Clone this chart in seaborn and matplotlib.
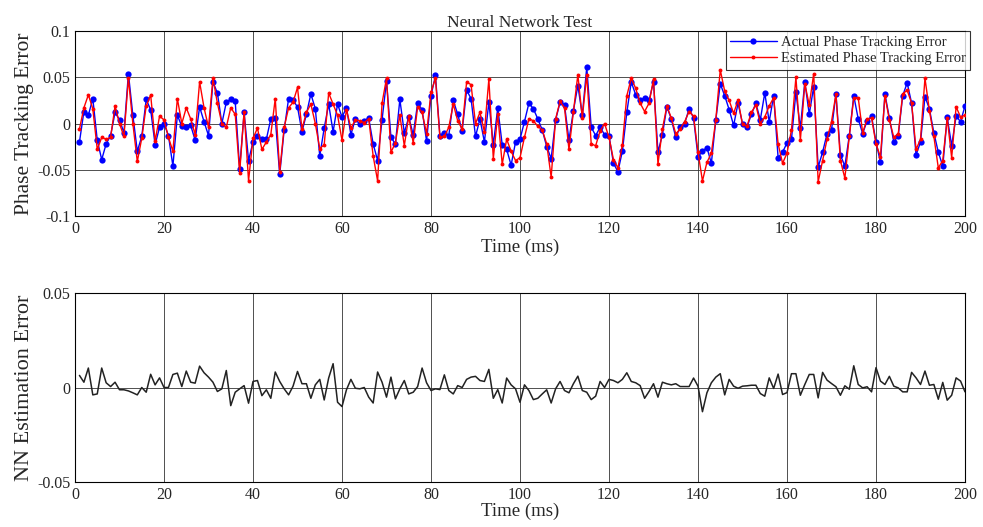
import numpy as np
import matplotlib
matplotlib.use("Agg")
import matplotlib.pyplot as plt
import pandas as pd
import seaborn as sns

# time axis (ms)
time_ms = list(range(1, 201))

# actual phase tracking error (blue)
actual_err = [
    -0.020, 0.013, 0.009, 0.027, -0.018, -0.039, -0.022, -0.013, 0.012, 0.004,
    -0.010, 0.054, 0.009, -0.030, -0.014, 0.026, 0.015, -0.023, -0.004, 0.000,
    -0.013, -0.046, 0.009, -0.003, -0.004, -0.002, -0.018, 0.018, 0.002, -0.013,
    0.045, 0.033, 0.000, 0.023, 0.026, 0.024, -0.049, 0.012, -0.040, -0.020,
    -0.014, -0.017, -0.017, 0.005, 0.006, -0.055, -0.007, 0.027, 0.025, 0.018,
    -0.009, 0.010, 0.032, 0.016, -0.035, -0.005, 0.021, -0.009, 0.021, 0.007,
    0.017, -0.012, 0.005, -0.001, 0.003, 0.006, -0.022, -0.040, 0.004, 0.046,
    -0.015, -0.022, 0.026, -0.010, 0.007, -0.012, 0.022, 0.015, -0.019, 0.030,
    0.052, -0.013, -0.010, -0.013, 0.025, 0.010, -0.008, 0.036, 0.027, -0.014,
    0.005, -0.020, 0.023, -0.023, 0.017, -0.023, -0.028, -0.045, -0.020, -0.017,
    0.002, 0.022, 0.016, 0.005, -0.007, -0.025, -0.038, 0.004, 0.023, 0.020,
    -0.018, 0.014, 0.041, 0.009, 0.061, -0.004, -0.013, -0.004, -0.012, -0.013,
    -0.043, -0.052, -0.030, 0.012, 0.045, 0.031, 0.025, 0.028, 0.025, 0.045,
    -0.031, -0.012, 0.018, 0.005, -0.015, -0.004, 0.000, 0.016, 0.006, -0.036,
    -0.030, -0.026, -0.043, 0.004, 0.043, 0.030, 0.015, -0.002, 0.022, 0.000,
    -0.004, 0.010, 0.022, 0.004, 0.033, 0.002, 0.030, -0.037, -0.031, -0.021,
    -0.017, 0.034, -0.005, 0.045, 0.010, 0.040, -0.047, -0.031, -0.011, -0.007,
    0.032, -0.034, -0.046, -0.013, 0.030, 0.005, -0.011, 0.003, 0.008, -0.020,
    -0.042, 0.032, 0.006, -0.020, -0.013, 0.030, 0.044, 0.022, -0.034, -0.020,
    0.029, 0.016, -0.010, -0.031, -0.046, 0.007, -0.024, 0.008, 0.002, 0.019,
]

# estimated phase tracking error (red)
estimated_err = [
    -0.006, 0.017, 0.031, 0.016, -0.028, -0.015, -0.017, -0.015, 0.019, 0.000,
    -0.014, 0.049, 0.000, -0.041, -0.016, 0.019, 0.031, -0.019, 0.008, 0.004,
    -0.015, -0.030, 0.027, 0.000, 0.017, 0.005, -0.012, 0.045, 0.017, -0.004,
    0.049, 0.022, 0.000, -0.004, 0.017, 0.010, -0.053, 0.013, -0.062, -0.016,
    -0.005, -0.028, -0.020, -0.012, 0.027, -0.052, -0.004, 0.017, 0.023, 0.039,
    -0.006, 0.012, 0.021, 0.000, -0.027, -0.023, 0.033, 0.021, 0.009, -0.018,
    0.015, -0.005, 0.004, 0.003, 0.001, 0.005, -0.035, -0.062, 0.022, 0.049,
    -0.031, -0.021, 0.009, -0.024, 0.008, -0.021, 0.018, 0.012, -0.011, 0.034,
    0.049, -0.015, -0.014, -0.004, 0.021, 0.003, -0.006, 0.045, 0.042, 0.000,
    0.012, -0.009, 0.048, -0.038, 0.010, -0.044, -0.017, -0.030, -0.040, -0.037,
    -0.015, 0.005, 0.003, -0.003, -0.007, -0.022, -0.058, 0.005, 0.024, 0.017,
    -0.028, 0.013, 0.053, 0.006, 0.053, -0.022, -0.024, -0.008, 0.000, -0.015,
    -0.039, -0.048, -0.023, 0.030, 0.049, 0.038, 0.022, 0.013, 0.022, 0.048,
    -0.044, -0.006, 0.019, 0.006, -0.011, -0.006, 0.002, 0.013, 0.008, -0.031,
    -0.062, -0.042, -0.032, 0.004, 0.058, 0.035, 0.025, 0.011, 0.025, -0.001,
    -0.003, 0.012, 0.020, 0.000, 0.007, 0.019, 0.028, -0.022, -0.043, -0.032,
    -0.007, 0.050, -0.018, 0.043, 0.020, 0.054, -0.063, -0.040, -0.017, 0.002,
    0.032, -0.040, -0.059, -0.014, 0.028, 0.028, -0.010, 0.005, 0.006, -0.022,
    -0.036, 0.030, 0.004, -0.015, -0.011, 0.032, 0.036, 0.022, -0.028, -0.017,
    0.049, 0.014, -0.014, -0.048, -0.040, 0.006, -0.037, 0.018, 0.007, 0.009,
]

# NN estimation error (bottom panel)
nn_err = [
    0.0064, 0.0028, 0.0103, -0.0039, -0.0034, 0.0103, 0.0025, 0.0005, 0.0028, -0.0012,
    -0.0012, -0.0018, -0.0028, -0.0039, 0.0000, -0.0025, 0.0070, 0.0014, 0.0051, 0.0000,
    0.0000, 0.0069, 0.0076, 0.0005, 0.0087, 0.0028, 0.0023, 0.0113, 0.0078, 0.0055,
    0.0028, -0.0021, -0.0007, 0.0090, -0.0096, -0.0025, -0.0007, 0.0010, -0.0083, 0.0032,
    0.0037, -0.0043, -0.0012, -0.0057, 0.0082, 0.0032, -0.0007, -0.0039, 0.0007, 0.0085,
    0.0020, 0.0020, -0.0057, 0.0014, 0.0043, -0.0066, 0.0050, 0.0126, -0.0078, -0.0101,
    -0.0012, 0.0043, -0.0004, -0.0007, 0.0000, -0.0051, -0.0082, 0.0082, 0.0028, -0.0051,
    0.0055, -0.0060, -0.0007, 0.0037, -0.0034, -0.0025, 0.0005, 0.0103, 0.0025, -0.0016,
    -0.0007, -0.0011, 0.0067, -0.0016, -0.0034, 0.0010, 0.0000, 0.0043, 0.0055, 0.0059,
    0.0037, 0.0032, 0.0096, -0.0057, -0.0011, -0.0082, 0.0050, 0.0014, -0.0007, -0.0078,
    0.0014, -0.0016, -0.0064, -0.0057, -0.0034, -0.0012, -0.0082, -0.0007, 0.0032, -0.0016,
    -0.0028, 0.0020, 0.0060, -0.0016, -0.0025, -0.0064, -0.0046, 0.0032, 0.0000, 0.0043,
    0.0037, 0.0025, 0.0043, 0.0078, 0.0032, 0.0025, 0.0010, -0.0057, -0.0021, 0.0020,
    -0.0051, 0.0028, 0.0020, 0.0014, 0.0020, 0.0005, 0.0005, 0.0005, 0.0050, 0.0007,
    -0.0128, -0.0028, 0.0025, 0.0055, 0.0073, -0.0039, 0.0043, 0.0007, -0.0004, 0.0007,
    0.0009, 0.0012, 0.0012, -0.0032, -0.0046, 0.0051, -0.0005, 0.0071, -0.0037, -0.0027,
    0.0073, 0.0073, -0.0041, 0.0016, 0.0069, 0.0069, -0.0055, 0.0080, 0.0039, 0.0021,
    0.0004, -0.0041, 0.0009, -0.0009, 0.0115, 0.0016, -0.0002, 0.0004, -0.0023, 0.0105,
    0.0034, 0.0016, 0.0059, 0.0007, -0.0002, -0.0023, -0.0023, 0.0080, 0.0051, 0.0016,
    0.0087, 0.0012, 0.0016, -0.0062, 0.0027, -0.0067, -0.0041, 0.0051, 0.0034, -0.0023,
]

x_ticks = [0, 20, 40, 60, 80, 100, 120, 140, 160, 180, 200]
top_yticks = [-0.1, -0.05, 0, 0.05, 0.1]
top_ylabels = ["-0.1", "-0.05", "0", "0.05", "0.1"]
bot_yticks = [-0.05, 0, 0.05]
bot_ylabels = ["-0.05", "0", "0.05"]

df_top = pd.DataFrame({"t": time_ms, "actual": actual_err, "est": estimated_err})
df_bot = pd.DataFrame({"t": time_ms, "nn": nn_err})

sns.set_style("white")
plt.rcParams["font.family"] = ["Liberation Serif", "DejaVu Serif"]
plt.rcParams["xtick.direction"] = "in"
plt.rcParams["ytick.direction"] = "in"

fig = plt.figure(figsize=(9.83, 5.27), dpi=100)
ax1 = fig.add_axes([0.0763, 0.5901, 0.9054, 0.351])
ax2 = fig.add_axes([0.0763, 0.0854, 0.9054, 0.3586])

# --- top panel ---
sns.lineplot(data=df_top, x="t", y="actual", ax=ax1, color="#0000ff", lw=1.0,
             marker="o", markersize=4.5, markeredgewidth=0,
             label="Actual Phase Tracking Error", zorder=3)
sns.lineplot(data=df_top, x="t", y="est", ax=ax1, color="#ff0000", lw=1.0,
             marker="o", markersize=2.8, markeredgewidth=0,
             label="Estimated Phase Tracking Error", zorder=4)
ax1.set_xlim(0, 200)
ax1.set_ylim(-0.1, 0.1)
ax1.set_xticks(x_ticks)
ax1.set_yticks(top_yticks)
ax1.set_yticklabels(top_ylabels)
ax1.grid(True, color="#333333", lw=0.6)
ax1.set_axisbelow(True)
ax1.set_title("Neural Network Test", fontsize=12.5, pad=3)
ax1.set_xlabel("Time (ms)", fontsize=13.5, labelpad=1)
ax1.set_ylabel("Phase Tracking Error", fontsize=15.5, labelpad=2)
ax1.tick_params(labelsize=11.5, length=4)
leg = ax1.legend(loc="upper right", bbox_to_anchor=(1.006, 1.0), fontsize=10.5,
                 frameon=True, fancybox=False, edgecolor="black",
                 borderpad=0.3, labelspacing=0.25, handlelength=3.2,
                 handletextpad=0.3, borderaxespad=0)
leg.get_frame().set_linewidth(0.8)

# --- bottom panel ---
sns.lineplot(data=df_bot, x="t", y="nn", ax=ax2, color="#222222", lw=1.1)
ax2.set_xlim(0, 200)
ax2.set_ylim(-0.05, 0.05)
ax2.set_xticks(x_ticks)
ax2.set_yticks(bot_yticks)
ax2.set_yticklabels(bot_ylabels)
ax2.grid(True, color="#333333", lw=0.6)
ax2.set_axisbelow(True)
ax2.set_xlabel("Time (ms)", fontsize=13.5, labelpad=0)
ax2.set_ylabel("NN Estimation Error", fontsize=16, labelpad=2)
ax2.tick_params(labelsize=11.5, length=4)

for ax in (ax1, ax2):
    for s in ax.spines.values():
        s.set_color("black")
        s.set_linewidth(0.8)

fig.savefig("out.png", dpi=100)
